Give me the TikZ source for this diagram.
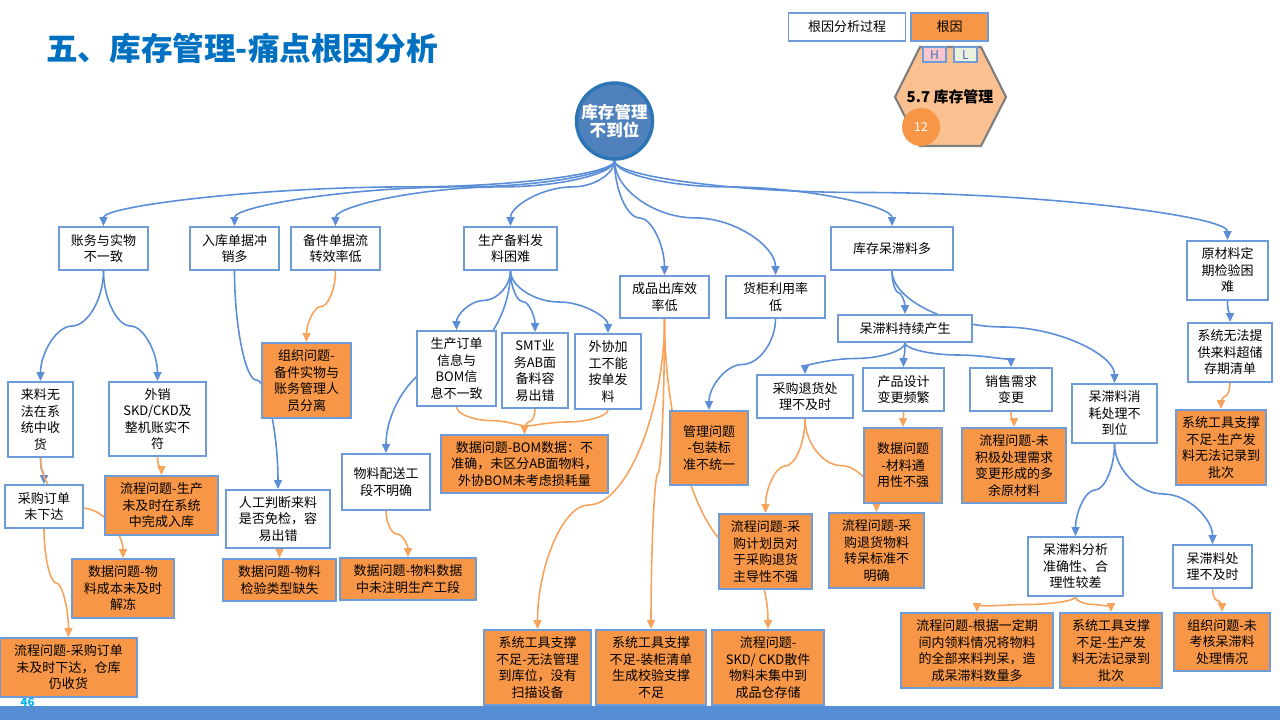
\documentclass[tikz,border=0pt]{standalone}
\usepackage{fontspec}
\setmainfont{Noto Sans CJK SC}
\usetikzlibrary{arrows.meta, calc, backgrounds}
\definecolor{ctitle}{HTML}{0070C0}
\definecolor{cline}{HTML}{5B8ED7}
\definecolor{cline2}{HTML}{F8A35C}
\definecolor{cbord}{HTML}{6F9BD8}
\definecolor{corange}{HTML}{F79646}
\definecolor{croot}{HTML}{4F81BD}
\definecolor{crootb}{HTML}{2E75B6}
\definecolor{chex}{HTML}{FAC090}
\definecolor{cgrey}{HTML}{7F7F7F}
\definecolor{cpink}{HTML}{F9C6CB}
\definecolor{cpale}{HTML}{EBF1DE}
\definecolor{chl}{HTML}{4A6FB5}
\definecolor{cpage}{HTML}{00B0F0}
\definecolor{cbar}{HTML}{558ED5}
\newcommand{\boxfont}{\fontsize{7.4}{9.4}\selectfont}
\tikzset{
  pbox/.style={draw=cbord, fill=white, line width=1.1pt, align=center, inner sep=0pt, font=\boxfont},
  rbox/.style={pbox, fill=corange},
  sz/.style 2 args={minimum width=#1*0.02cm, minimum height=#2*0.02cm},
  blueln/.style={draw=cline, line width=0.9pt, -{Triangle[length=1.8mm, width=1.6mm]}},
  orangeln/.style={draw=cline2, line width=0.9pt, -{Triangle[length=1.8mm, width=1.6mm]}},
}
% s-shaped connector: bottom of #3 -> top of #4, kink at fraction #1
\newcommand{\flowto}[4][.5]{%
  \path ($(#3.south)!#1!(#4.north)$) coordinate (fm);
  \draw[#2] (#3.south) .. controls ($(#3.south)!.5!(#3.south|-fm)$) and ($(fm)!.5!(#3.south|-fm)$) .. (fm)
    .. controls ($(fm)!.5!(#4.north|-fm)$) and ($(#4.north)!.5!(#4.north|-fm)$) .. (#4.north);
}

\begin{document}
\begin{tikzpicture}[x=0.02cm, y=-0.02cm]
  \useasboundingbox (0,0) rectangle (1280,720);
  % title and legend
  \node[anchor=west, text=ctitle, font=\fontsize{18}{20}\selectfont\bfseries] (title) at (40,48) {五、库存管理-痛点根因分析};
  \node[pbox, sz={117}{28}] (lg1) at (847,27) {根因分析过程};
  \node[rbox, sz={77}{28}] (lg2) at (949.5,27) {根因};
  \draw[fill=chex, draw=cgrey, line width=1.2pt] (920,47) -- (981,47) -- (1006,97) -- (981,146) -- (920,146) -- (895,97) -- cycle;
  \node[draw=cbord, fill=cpink, line width=1pt, sz={23}{15}, inner sep=0pt, text=chl, font=\fontsize{7}{7}\selectfont] (hbox) at (934.5,54.5) {H};
  \node[draw=cbord, fill=cpale, line width=1pt, sz={23}{15}, inner sep=0pt, text=chl, font=\fontsize{7}{7}\selectfont] (lbox) at (965.5,54.5) {L};
  \node[font=\fontsize{8.5}{9}\selectfont\bfseries] (hexlbl) at (950,97) {5.7 库存管理};
  \node[circle, fill=corange, minimum size=38*0.02cm, inner sep=0pt, text=white, font=\fontsize{7}{7}\selectfont] (cnt) at (921,127) {12};

  % root
  \node[circle, draw=crootb, fill=croot, line width=2pt, minimum size=76*0.02cm, inner sep=0pt,
        text=white, align=center, font=\fontsize{9.4}{10.4}\selectfont\bfseries] (root) at (614.5,121) {库存管理\\不到位};

  % process boxes
  \node[pbox, sz={89}{43}] (a1) at (103.5,248.5) {账务与实物\\不一致};
  \node[pbox, sz={89}{43}] (a2) at (234.5,248.5) {入库单据冲\\销多};
  \node[pbox, sz={89}{43}] (a3) at (335.5,248.5) {备件单据流\\转效率低};
  \node[pbox, sz={93}{43}] (a4) at (510.5,248.5) {生产备料发\\料困难};
  \node[pbox, sz={89}{42}] (a5) at (664.5,297) {成品出库效\\率低};
  \node[pbox, sz={99}{42}] (a6) at (775.5,297) {货柜利用率\\低};
  \node[pbox, sz={122}{43}] (a7) at (892,248.5) {库存呆滞料多};
  \node[pbox, sz={81}{59}] (a8) at (1227.5,270.5) {原材料定\\期检验困\\难};

  \node[pbox, sz={65}{75}] (b1) at (40.5,419.5) {来料无\\法在系\\统中收\\货};
  \node[pbox, sz={97}{74}] (b2) at (157.5,419) {外销\\SKD/CKD及\\整机账实不\\符};
  \node[pbox, sz={78}{43}] (b3) at (44,506.5) {采购订单\\未下达};
  \node[pbox, sz={104}{58}] (b4) at (278,519) {人工判断来料\\是否免检，容\\易出错};
  \node[pbox, sz={79}{75}] (b5) at (456.5,368.5) {生产订单\\信息与\\BOM信\\息不一致};
  \node[pbox, sz={66}{75}] (b6) at (535,370.5) {SMT业\\务AB面\\备料容\\易出错};
  \node[pbox, sz={66}{75}] (b7) at (608,371.5) {外协加\\工不能\\按单发\\料};
  \node[pbox, sz={88}{56}] (b8) at (386,482) {物料配送工\\段不明确};
  \node[pbox, sz={134}{27}] (b9) at (905,328.5) {呆滞料持续产生};
  \node[pbox, sz={96}{43}] (b10) at (805,396.5) {采购退货处\\理不及时};
  \node[pbox, sz={81}{43}] (b11) at (903.5,389.5) {产品设计\\变更频繁};
  \node[pbox, sz={82}{43}] (b12) at (1011,389.5) {销售需求\\变更};
  \node[pbox, sz={85}{59}] (b13) at (1114.5,413.5) {呆滞料消\\耗处理不\\到位};
  \node[pbox, sz={84}{59}] (b14) at (1230,352.5) {系统无法提\\供来料超储\\存期清单};
  \node[pbox, sz={95}{59}] (b15) at (1075.5,566.5) {呆滞料分析\\准确性、合\\理性较差};
  \node[pbox, sz={79}{43}] (b16) at (1212.5,566.5) {呆滞料处\\理不及时};

  % root causes
  \node[rbox, sz={89}{75}] (r1) at (306.5,380.5) {组织问题-\\备件实物与\\账务管理人\\员分离};
  \node[rbox, sz={113}{59}] (r2) at (161.5,505.5) {流程问题-生产\\未及时在系统\\中完成入库};
  \node[rbox, sz={102}{59}] (r3) at (123,588.5) {数据问题-物\\料成本未及时\\解冻};
  \node[rbox, sz={137}{59}] (r4) at (68.5,667.5) {流程问题-采购订单\\未及时下达，仓库\\仍收货};
  \node[rbox, sz={113}{42}] (r5) at (279.5,580) {数据问题-物料\\检验类型缺失};
  \node[rbox, sz={136}{42}] (r6) at (408,579) {数据问题-物料数据\\中未注明生产工段};
  \node[rbox, sz={167}{58}] (r7) at (524.5,464) {数据问题-BOM数据：不\\准确，未区分AB面物料，\\外协BOM未考虑损耗量};
  \node[rbox, sz={78}{74}] (r8) at (709,448) {管理问题\\-包装标\\准不统一};
  \node[rbox, sz={107}{75}] (r9) at (537.5,667.5) {系统工具支撑\\不足-无法管理\\到库位，没有\\扫描设备};
  \node[rbox, sz={110}{75}] (r10) at (651,667.5) {系统工具支撑\\不足-装柜清单\\生成校验支撑\\不足};
  \node[rbox, sz={112}{75}] (r11) at (768,667.5) {流程问题-\\SKD/ CKD散件\\物料未集中到\\成品仓存储};
  \node[rbox, sz={93}{75}] (r12) at (765.5,551.5) {流程问题-采\\购计划员对\\于采购退货\\主导性不强};
  \node[rbox, sz={95}{75}] (r13) at (876.5,550.5) {流程问题-采\\购退货物料\\转呆标准不\\明确};
  \node[rbox, sz={78}{75}] (r14) at (903,465.5) {数据问题\\-材料通\\用性不强};
  \node[rbox, sz={104}{75}] (r15) at (1014,465.5) {流程问题-未\\积极处理需求\\变更形成的多\\余原材料};
  \node[rbox, sz={90}{75}] (r16) at (1221,447.5) {系统工具支撑\\不足-生产发\\料无法记录到\\批次};
  \node[rbox, sz={152}{75}] (r17) at (977,650.5) {流程问题-根据一定期\\间内领料情况将物料\\的全部来料判呆，造\\成呆滞料数量多};
  \node[rbox, sz={102}{75}] (r18) at (1111,650.5) {系统工具支撑\\不足-生产发\\料无法记录到\\批次};
  \node[rbox, sz={96}{58}] (r19) at (1222,642) {组织问题-未\\考核呆滞料\\处理情况};

  % connectors, kept behind the boxes
  \begin{scope}[on background layer]
    \foreach \s/\t/\f in {root/a1/.4, root/a2/.4, root/a3/.4, root/a4/.4, root/a5/.5, root/a6/.5,
                          root/a7/.4, root/a8/.4, a1/b1/.5, a1/b2/.5, b1/b3/.5, a2/b4/.5,
                          a4/b5/.5, a4/b6/.5, a4/b7/.5, a4/b8/.5, a6/r8/.5, a7/b9/.5, a7/b13/.5,
                          b9/b10/.5, b9/b11/.5, b9/b12/.5, a8/b14/.5, b13/b15/.5, b13/b16/.5}
      {\flowto[\f]{blueln}{\s}{\t}}
    \foreach \s/\t/\f in {a3/r1/.5, b2/r2/.5, b1/r3/.5, b3/r4/.5, b4/r5/.5, b8/r6/.5,
                          b5/r7/.5, b6/r7/.5, b7/r7/.5, a5/r9/.6, a5/r10/.5, a5/r11/.75,
                          b10/r12/.5, b10/r13/.5, b11/r14/.5, b12/r15/.5, b14/r16/.5,
                          b15/r17/.5, b15/r18/.5, b16/r19/.5}
      {\flowto[\f]{orangeln}{\s}{\t}}
  \end{scope}

  % footer
  \fill[cbar] (0,706) rectangle (1280,720);
  \node[text=cpage, font=\fontsize{6.5}{7}\selectfont\bfseries] (pg) at (27.5,702) {46};
\end{tikzpicture}
\end{document}
